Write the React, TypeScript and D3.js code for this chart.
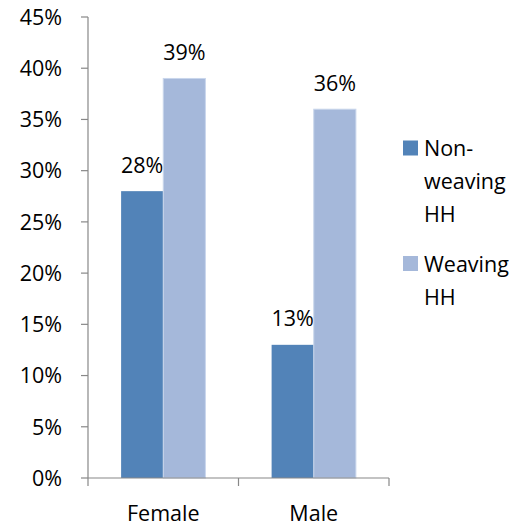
import React from "react";
import * as d3 from "d3";

const categories = ["Female", "Male"];
const seriesNames = ["Non-weaving HH", "Weaving HH"];
const nonWeaving = [0.28, 0.13];
const weaving = [0.39, 0.36];
const yTicks = [0, 0.05, 0.1, 0.15, 0.2, 0.25, 0.3, 0.35, 0.4, 0.45];
const legendLines = [["Non-", "weaving", "HH"], ["Weaving", "HH"]];

const colors = ["#5283B8", "#A5B8DA"];
const FONT = "'Open Sans', sans-serif";

export default function App() {
  const W = 524, H = 526;
  const x0 = 88, x1 = 389, yTop = 17, yBot = 478;
  const y = d3.scaleLinear().domain([0, 0.45]).range([yBot, yTop]);
  const x = d3.scaleBand().domain(categories).range([x0, x1]).paddingInner(0.44).paddingOuter(0.22);
  const xs = d3.scaleBand().domain(seriesNames).range([0, x.bandwidth()]);
  const series = [nonWeaving, weaving];
  const fmt = d3.format(".0%");
  const catEdges = [x0, ...categories.map((_, i) => x0 + ((x1 - x0) / categories.length) * (i + 1))];
  const fs = 21.5;

  return (
    <svg width={W} height={H} style={{ position: "absolute", left: 0, top: 0 }} fontFamily={FONT}>
      <rect width={W} height={H} fill="#fff" />
      {/* y axis */}
      <line x1={x0} x2={x0} y1={yTop} y2={yBot} stroke="#888" strokeWidth={1.2} />
      {yTicks.map((t) => (
        <g key={t}>
          <line x1={x0 - 7} x2={x0} y1={y(t)} y2={y(t)} stroke="#888" strokeWidth={1.2} />
          <text x={62} y={y(t)} dy="0.36em" textAnchor="end" fontSize={fs} fill="#000">
            {fmt(t)}
          </text>
        </g>
      ))}
      {/* bars */}
      {series.map((vals, si) =>
        categories.map((c, ci) => {
          const bx = (x(c) as number) + (xs(seriesNames[si]) as number);
          const bw = xs.bandwidth();
          return (
            <g key={c + si}>
              <rect
                x={bx}
                y={y(vals[ci])}
                width={bw}
                height={yBot - y(vals[ci])}
                fill={colors[si]}
                stroke={si === 1 ? "#C9D6EC" : "none"}
                strokeWidth={si === 1 ? 1 : 0}
              />
              <text x={bx + bw / 2} y={y(vals[ci]) - 18.5} textAnchor="middle" fontSize={fs} fill="#000">
                {fmt(vals[ci])}
              </text>
            </g>
          );
        })
      )}
      {/* x axis */}
      <line x1={x0} x2={x1} y1={yBot} y2={yBot} stroke="#888" strokeWidth={1.2} />
      {catEdges.map((e, i) => (
        <line key={i} x1={e} x2={e} y1={yBot} y2={yBot + 8} stroke="#888" strokeWidth={1.2} />
      ))}
      {categories.map((c) => (
        <text key={c} x={(x(c) as number) + x.bandwidth() / 2} y={521} textAnchor="middle" fontSize={fs} fill="#000">
          {c}
        </text>
      ))}
      {/* legend */}
      {seriesNames.map((s, i) => {
        const top = i === 0 ? 140.5 : 256;
        return (
          <g key={s}>
            <rect x={403} y={top} width={15} height={15} fill={colors[i]} />
            {legendLines[i].map((ln, li) => (
              <text key={li} x={424} y={top + 15.5 + li * 33} fontSize={fs} fill="#000">
                {ln}
              </text>
            ))}
          </g>
        );
      })}
    </svg>
  );
}
